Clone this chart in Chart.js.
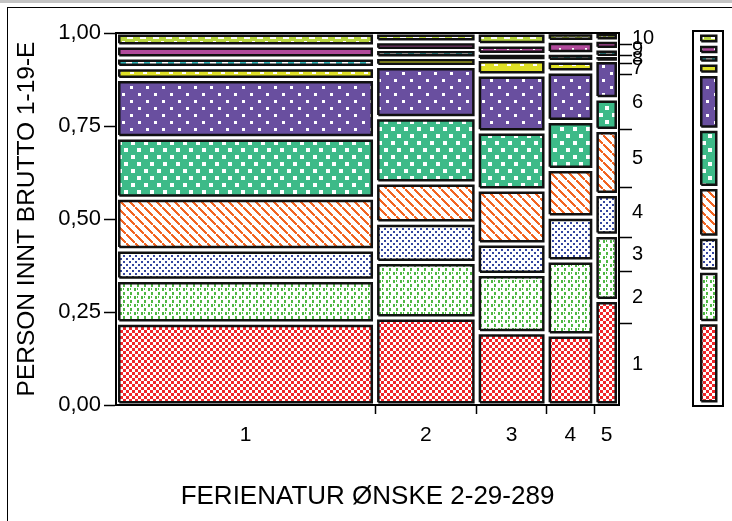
<!DOCTYPE html>
<html>
<head>
<meta charset="utf-8">
<script src="https://cdn.jsdelivr.net/npm/chart.js@4.4.1/dist/chart.umd.min.js"></script>
<style>
    body { margin: 0; background: #fff; }
    #wrap { position: relative; width: 732px; height: 521px; overflow: hidden; background: #fff; }
    #topbar { position: absolute; left: 0; top: 0; width: 732px; height: 3px; background: #c4c4c4; }
    #frame { position: absolute; left: 7px; top: 7px; width: 740px; height: 530px; border-left: 1px solid #000; border-top: 1px solid #000; }
    canvas { position: absolute; top: 0; }
</style>
</head>
<body>
<div id="wrap">
    <div id="topbar"></div>
    <div id="frame"></div>
    <canvas id="mosaic" width="732" height="521" style="left:0"></canvas>
    <canvas id="margin" width="44" height="521" style="left:688px"></canvas>
</div>
<script>
// Data
const xLevels = ['1', '2', '3', '4', '5'];
const xShares = [0.515, 0.202, 0.139, 0.095, 0.049];
const yLevels = ['1', '2', '3', '4', '5', '6', '7', '8', '9', '10'];
const sharesX1 = [0.220, 0.115, 0.082, 0.139, 0.162, 0.157, 0.032, 0.026, 0.032, 0.035];
const sharesX2 = [0.234, 0.149, 0.106, 0.108, 0.175, 0.138, 0.024, 0.020, 0.022, 0.024];
const sharesX3 = [0.194, 0.157, 0.082, 0.145, 0.156, 0.153, 0.042, 0.013, 0.026, 0.032];
const sharesX4 = [0.188, 0.199, 0.118, 0.128, 0.129, 0.133, 0.030, 0.019, 0.034, 0.022];
const sharesX5 = [0.281, 0.175, 0.110, 0.172, 0.085, 0.103, 0.009, 0.021, 0.024, 0.020];
const yTickValues = [0, 0.25, 0.5, 0.75, 1];
const yTickLabels = ['0,00', '0,25', '0,50', '0,75', '1,00'];
const xTitle = 'FERIENATUR ØNSKE 2-29-289';
const yTitle = 'PERSON INNT BRUTTO 1-19-E';

const FONT = 'Liberation Sans, Arial, sans-serif';
const INSET_X = 0.0065;
const INSET_Y = 0.0075;

Chart.defaults.color = '#000';
Chart.defaults.font.family = FONT;

// Fill patterns, one per y level
function makePattern(w, h, bg, fg, draw) {
    const c = document.createElement('canvas');
    c.width = w;
    c.height = h;
    const g = c.getContext('2d');
    g.fillStyle = bg;
    g.fillRect(0, 0, w, h);
    g.fillStyle = fg;
    draw(g);
    return g.createPattern(c, 'repeat');
}

const patterns = [
    makePattern(6, 6, '#fff', '#f0262a', g => { g.fillRect(0, 0, 3, 3); g.fillRect(3, 3, 3, 3); }),
    makePattern(7, 8, '#fff', '#4fb843', g => { g.fillRect(1, 0, 2, 3); g.fillRect(4, 4, 2, 3); g.fillRect(4, 0, 1, 2); }),
    makePattern(6, 6, '#fff', '#3546a0', g => { g.fillRect(0, 0, 2, 2); g.fillRect(3, 3, 2, 2); }),
    makePattern(9, 9, '#fff', '#f26522', g => { for (let i = 0; i < 9; i++) { g.fillRect(i, i, 2, 2); } }),
    makePattern(13, 14, '#3dba88', '#fff', g => { g.fillRect(1, 1, 4, 4); g.fillRect(7, 8, 4, 4); }),
    makePattern(16, 14, '#694f9f', '#fff', g => { g.fillRect(2, 2, 3, 3); g.fillRect(10, 9, 3, 3); }),
    makePattern(13, 8, '#dfe025', '#fff', g => { g.fillRect(0, 0, 4, 2); }),
    makePattern(12, 6, '#fff', '#2fb5b8', g => { g.fillRect(0, 0, 6, 6); }),
    makePattern(13, 6, '#b14a9b', '#fff', g => { g.fillRect(0, 0, 2, 2); }),
    makePattern(13, 8, '#b6d33e', '#fff', g => { g.fillRect(0, 5, 3, 2); g.fillRect(3, 3, 2, 2); g.fillRect(5, 1, 3, 2); g.fillRect(8, 3, 2, 2); g.fillRect(10, 5, 3, 2); })
];

const columns = [sharesX1, sharesX2, sharesX3, sharesX4, sharesX5];

const xEdges = [0];
xShares.forEach(s => xEdges.push(xEdges[xEdges.length - 1] + s));

// overall share of each y level, weighted by column width
const marginal = yLevels.map((_, j) => columns.reduce((sum, col, i) => sum + col[j] * xShares[i], 0));

function rectPoints(x0, x1, y0, y1) {
    return [{x: x0, y: y0}, {x: x1, y: y0}, {x: x1, y: y1}, {x: x0, y: y1}, {x: x0, y: y0}];
}

function cellDataset(points, pattern) {
    return {
        data: points,
        backgroundColor: pattern,
        borderColor: '#111',
        borderWidth: 2.5,
        fill: 'shape',
        pointRadius: 0,
        tension: 0
    };
}

const mosaicSets = [];
columns.forEach((col, i) => {
    let y = 0;
    col.forEach((s, j) => {
        const ih = Math.min(INSET_Y, s * 0.3);
        mosaicSets.push(cellDataset(rectPoints(xEdges[i] + INSET_X, xEdges[i + 1] - INSET_X, y + ih, y + s - ih), patterns[j]));
        y += s;
    });
});

// x axis: label at column centre, tick mark at each inner edge
const xTickPos = [];
xShares.forEach((s, i) => {
    xTickPos.push(xEdges[i] + s / 2);
    if (i < xShares.length - 1) xTickPos.push(xEdges[i + 1]);
});

// right axis: label at centre of each marginal band, tick at the edges
const yRightPos = [];
let acc = 0;
marginal.forEach((m, j) => {
    yRightPos.push(acc + m / 2);
    acc += m;
    if (j < marginal.length - 1) yRightPos.push(acc);
});

const tickOnOdd = c => (c.index % 2 ? '#000' : 'rgba(0,0,0,0)');

new Chart(document.getElementById('mosaic'), {
    type: 'line',
    data: { datasets: mosaicSets },
    options: {
        responsive: false,
        animation: false,
        events: [],
        layout: { padding: { top: 33, left: 0, right: 0, bottom: 0 } },
        plugins: { legend: { display: false }, tooltip: { enabled: false } },
        scales: {
            x: {
                type: 'linear', position: 'bottom', min: 0, max: 1,
                afterBuildTicks: s => { s.ticks = xTickPos.map(v => ({ value: v })); },
                afterFit: s => { s.height = 116; },
                ticks: {
                    autoSkip: false, maxRotation: 0, padding: 9,
                    font: { size: 21 },
                    callback: (v, i) => (i % 2 === 0 ? xLevels[i / 2] : '')
                },
                grid: { drawOnChartArea: false, tickLength: 9, tickWidth: 1.5, tickColor: tickOnOdd },
                border: { display: true, color: '#000', width: 2 },
                title: { display: true, text: xTitle, font: { size: 26 }, padding: { top: 0, bottom: 9 } }
            },
            xTop: {
                type: 'linear', position: 'top', min: 0, max: 1,
                afterFit: s => { s.height = 0; },
                ticks: { display: false },
                grid: { drawOnChartArea: false, drawTicks: false },
                border: { display: true, color: '#000', width: 2 }
            },
            y: {
                type: 'linear', position: 'left', min: 0, max: 1,
                afterBuildTicks: s => { s.ticks = yTickValues.map(v => ({ value: v })); },
                afterFit: s => { s.width = 116; },
                ticks: {
                    autoSkip: false, padding: 3, font: { size: 22 },
                    callback: (v, i) => yTickLabels[i]
                },
                grid: { drawOnChartArea: false, tickLength: 12, tickWidth: 1.5, tickColor: '#000' },
                border: { display: true, color: '#000', width: 2 }, 
                title: { display: true, text: yTitle, font: { size: 24.5 }, padding: { top: 13, bottom: 0 } }
            },
            y2: {
                type: 'linear', position: 'right', min: 0, max: 1,
                afterBuildTicks: s => { s.ticks = yRightPos.map(v => ({ value: v })); },
                afterFit: s => { s.width = 113; },
                ticks: {
                    autoSkip: false, padding: 0, font: { size: 20 },
                    callback: (v, i) => (i % 2 === 0 ? yLevels[i / 2] : '')
                },
                grid: { drawOnChartArea: false, tickLength: 13, tickWidth: 1.5, tickColor: tickOnOdd },
                border: { display: true, color: '#000', width: 2 }
            }
        }
    }
});

// marginal column on the far right
const marginSets = [];
let my = 0;
marginal.forEach((m, j) => {
    const ih = Math.min(INSET_Y, m * 0.3);
    marginSets.push(cellDataset(rectPoints(0, 1, my + ih, my + m - ih), patterns[j]));
    my += m;
});

const frameAxis = (pos, size) => ({
    type: 'linear', position: pos, display: true,
    afterFit: s => { if (pos === 'left' || pos === 'right') s.width = size; else s.height = size; },
    ticks: { display: false },
    grid: { drawOnChartArea: false, drawTicks: false },
    border: { display: true, color: '#000', width: 2 }
});

new Chart(document.getElementById('margin'), {
    type: 'line',
    data: { datasets: marginSets },
    options: {
        responsive: false,
        animation: false,
        events: [],
        layout: { padding: { top: 31, left: 5, right: 9, bottom: 115 } },
        plugins: { legend: { display: false }, tooltip: { enabled: false } },
        scales: {
            x: Object.assign(frameAxis('bottom', 0), { min: -0.55, max: 1.45 }),
            xTop: Object.assign(frameAxis('top', 0), { min: -0.55, max: 1.45 }),
            y: Object.assign(frameAxis('left', 0), { min: -0.005, max: 1.005 }),
            y2: Object.assign(frameAxis('right', 0), { min: -0.005, max: 1.005 })
        }
    }
});
</script>
</body>
</html>
